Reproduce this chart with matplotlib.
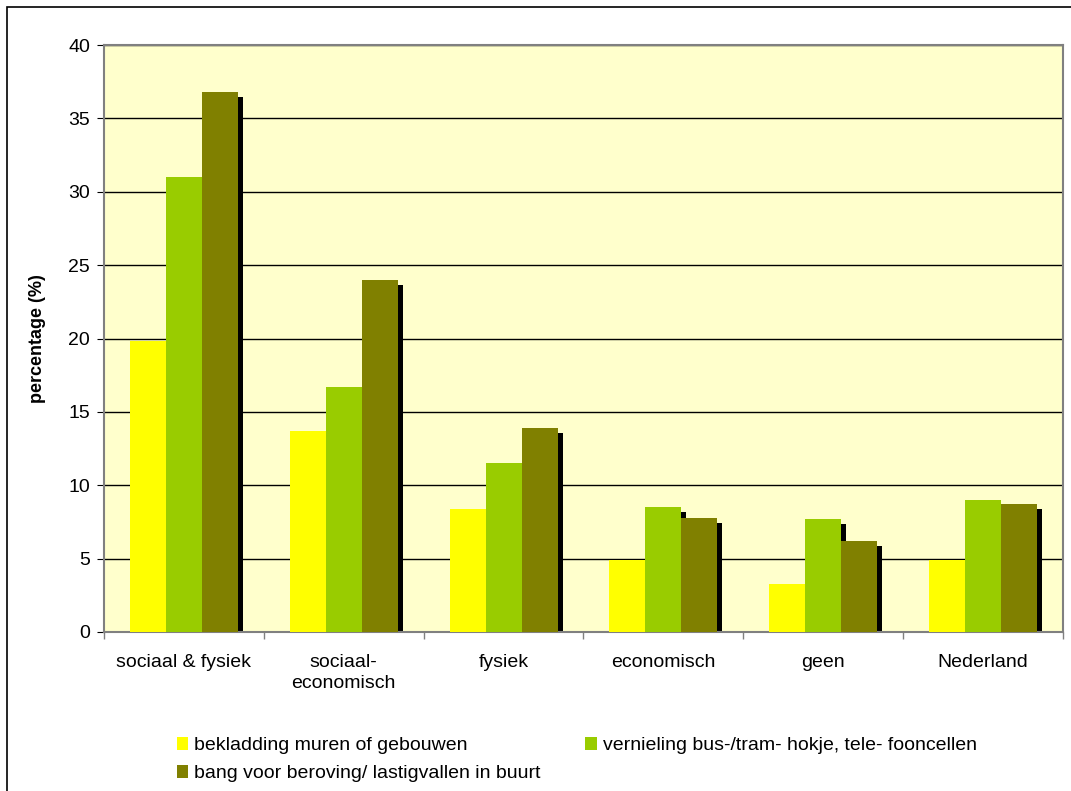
import matplotlib.pyplot as plt
from matplotlib.patches import Patch, Rectangle
import numpy as np

plt.rcParams['font.family'] = ['Liberation Sans', 'DejaVu Sans']

# percentages per type of neighbourhood problem
categories = ['sociaal & fysiek', 'sociaal-\neconomisch', 'fysiek', 'economisch', 'geen', 'Nederland']
series = ['bekladding muren of gebouwen',
          'vernieling bus-/tram- hokje, tele- fooncellen',
          'bang voor beroving/ lastigvallen in buurt']
bekladding = [19.8, 13.7, 8.4, 4.9, 3.3, 4.9]
vernieling = [31.0, 16.7, 11.5, 8.5, 7.7, 9.0]
bang = [36.8, 24.0, 13.9, 7.8, 6.2, 8.7]
colors = ['#FFFF00', '#99CC00', '#808000']

fig = plt.figure(figsize=(10.71, 7.91), dpi=100)
ax = fig.add_axes([104 / 1071, 159 / 791, 959 / 1071, 587 / 791])
ax.set_facecolor('#FFFFCC')

x = np.arange(len(categories))
w = 0.225
# excel-style drop shadow: a few pixels right and down
dx = 5 / 160
dy = 5 / 14.675
for i, vals in enumerate([bekladding, vernieling, bang]):
    pos = x + (i - 1) * w
    ax.bar(pos + dx, np.array(vals) - dy, w, color='black', zorder=2)
for i, vals in enumerate([bekladding, vernieling, bang]):
    pos = x + (i - 1) * w
    ax.bar(pos, vals, w, color=colors[i], zorder=3)

ax.set_xlim(-0.5, len(categories) - 0.5)
ax.set_ylim(0, 40)
ax.set_yticks(range(0, 41, 5))
ax.yaxis.grid(True, color='black', linewidth=1)
ax.set_axisbelow(True)

# category labels centred, tick marks between categories
ax.set_xticks(np.arange(-0.5, len(categories)), minor=False)
ax.set_xticklabels([])
ax.set_xticks(x, minor=True)
ax.set_xticklabels(categories, minor=True, fontsize=14, linespacing=1.3)
ax.tick_params(axis='x', which='minor', length=0, pad=16)
ax.tick_params(axis='x', which='major', length=5, color='#808080', width=1)
ax.tick_params(axis='y', length=5, labelsize=14, pad=5)

for s in ax.spines.values():
    s.set_color('#808080')
    s.set_linewidth(1.5)

ax.set_ylabel('percentage (%)', fontsize=13, fontweight='bold', labelpad=16)

handles = [Patch(facecolor=colors[0]), Patch(facecolor=colors[2]), Patch(facecolor=colors[1])]
labels = [series[0], series[2], series[1]]
fig.legend(handles, labels, ncol=2, loc='upper left', bbox_to_anchor=(159 / 1071, 1 - 719 / 791),
           frameon=False, fontsize=14, handlelength=0.6, handleheight=0.7,
           handletextpad=0.3, columnspacing=2.3, labelspacing=0.55)

# outer chart border
fig.patches.append(Rectangle((7 / 1071, -0.1), 1.2, 1 - 7 / 791 + 0.1, transform=fig.transFigure,
                             fill=False, edgecolor='black', linewidth=1.2))

fig.savefig('out.png', dpi=100)
